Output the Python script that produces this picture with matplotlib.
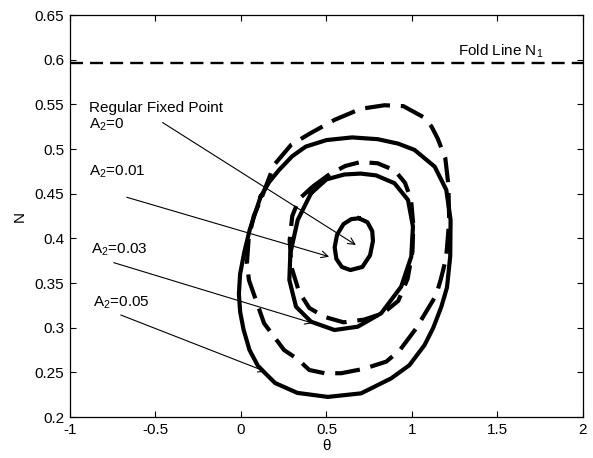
import matplotlib
matplotlib.use("Agg")
import matplotlib.pyplot as plt

plt.rcParams['font.family'] = ['Liberation Sans', 'DejaVu Sans']
plt.rcParams['mathtext.fontset'] = 'custom'
plt.rcParams['mathtext.rm'] = 'Liberation Sans'
plt.rcParams['mathtext.it'] = 'Liberation Sans'

# orbit A2=0.01 (small solid loop)
small_theta = [0.69, 0.74, 0.768, 0.772, 0.755, 0.71, 0.64, 0.59, 0.558, 0.548, 0.562, 0.60, 0.645, 0.69]
small_N = [0.4225, 0.418, 0.408, 0.397, 0.381, 0.368, 0.3645, 0.368, 0.377, 0.390, 0.404, 0.416, 0.4215, 0.4225]

# orbit A2=0.03 (solid and dashed)
mid_solid_theta = [0.41, 0.50, 0.605, 0.70, 0.79, 0.898, 0.977, 1.006, 0.996, 0.937, 0.82,
                   0.683, 0.547, 0.41, 0.322, 0.283, 0.289, 0.332, 0.41]
mid_solid_N = [0.4505, 0.466, 0.4715, 0.4725, 0.4705, 0.4617, 0.443, 0.4131, 0.3795, 0.3459, 0.3161,
               0.3011, 0.2974, 0.3067, 0.3235, 0.3534, 0.3833, 0.4206, 0.4505]
mid_dash_theta = [0.42, 0.52, 0.61, 0.70, 0.80, 0.90, 0.96, 0.995, 1.008, 1.003, 0.975, 0.92, 0.83,
                  0.72, 0.60, 0.49, 0.40, 0.34, 0.295, 0.285, 0.30, 0.34, 0.42]
mid_dash_N = [0.458, 0.472, 0.481, 0.4855, 0.484, 0.476, 0.462, 0.443, 0.415, 0.385, 0.355, 0.330, 0.316,
              0.309, 0.306, 0.312, 0.322, 0.340, 0.368, 0.398, 0.425, 0.444, 0.458]

# orbit A2=0.05 (solid and dashed)
out_solid_theta = [0.115, 0.165, 0.223, 0.30, 0.379, 0.50, 0.65, 0.80, 0.92, 1.015, 1.133, 1.201, 1.226,
                   1.224, 1.205, 1.172, 1.125, 1.074, 0.985, 0.879, 0.703, 0.508, 0.33, 0.20, 0.10,
                   0.05, 0.015, -0.005, -0.012, -0.005, 0.02, 0.051, 0.115]
out_solid_N = [0.4467, 0.463, 0.4766, 0.492, 0.5027, 0.510, 0.513, 0.511, 0.506, 0.499, 0.4803, 0.4542,
               0.4206, 0.38, 0.345, 0.3235, 0.30, 0.2806, 0.258, 0.2433, 0.2265, 0.2225, 0.227, 0.238,
               0.257, 0.275, 0.298, 0.318, 0.338, 0.36, 0.385, 0.4094, 0.4467]
out_dash_theta = [0.123, 0.193, 0.293, 0.40, 0.547, 0.70, 0.84, 0.95, 1.074, 1.115, 1.15, 1.195, 1.213,
                  1.218, 1.20, 1.17, 1.142, 1.025, 0.93, 0.85, 0.72, 0.586, 0.49, 0.40, 0.33, 0.252,
                  0.135, 0.08, 0.047, 0.035, 0.045, 0.075, 0.123]
out_dash_N = [0.4467, 0.482, 0.5046, 0.517, 0.5326, 0.545, 0.549, 0.548, 0.535, 0.525, 0.512, 0.49, 0.46,
              0.42, 0.378, 0.355, 0.3366, 0.2993, 0.275, 0.262, 0.254, 0.249, 0.249, 0.2526, 0.265,
              0.275, 0.305, 0.335, 0.353, 0.372, 0.40, 0.425, 0.4467]

fold_N = 0.5965
fixed_point = (0.672, 0.3926)

labels = ['A$_2$=0.01', 'A$_2$=0.03', 'A$_2$=0.05']
label_pos = [(-0.89, 0.4702), (-0.875, 0.3833), (-0.867, 0.3235)]
arrow_from = [(-0.668, 0.446), (-0.744, 0.3728), (-0.703, 0.3142)]
arrow_to = [(0.5155, 0.3795), (0.42, 0.305), (0.1465, 0.2507)]

fig = plt.figure(figsize=(5.93, 4.58), dpi=100)
ax = fig.add_axes([0.118, 0.0895, 0.865, 0.8777])

lw = 3.0
ax.axhline(fold_N, color='black', lw=1.7, dashes=(5.5, 3))
ax.plot(out_dash_theta, out_dash_N, color='black', lw=lw, dashes=(6, 2.6), solid_joinstyle='round',
        dash_joinstyle='round')
ax.plot(out_solid_theta, out_solid_N, color='black', lw=lw, solid_joinstyle='round')
ax.plot(mid_dash_theta, mid_dash_N, color='black', lw=lw, dashes=(5, 2.6), solid_joinstyle='round',
        dash_joinstyle='round')
ax.plot(mid_solid_theta, mid_solid_N, color='black', lw=lw, solid_joinstyle='round')
ax.plot(small_theta, small_N, color='black', lw=lw, solid_joinstyle='round')

fs = 11
ax.text(1.27, 0.6043, 'Fold Line N$_1$', fontsize=fs, ha='left', va='baseline')
ax.text(-0.89, 0.5412, 'Regular Fixed Point', fontsize=fs, ha='left', va='baseline')
ax.text(-0.89, 0.5233, 'A$_2$=0', fontsize=fs, ha='left', va='baseline')
ax.annotate('', xy=fixed_point, xytext=(-0.458, 0.5296),
            arrowprops=dict(arrowstyle='->', lw=0.8, color='black', mutation_scale=12,
                            shrinkA=0, shrinkB=0))
for lab, pos, a0, a1 in zip(labels, label_pos, arrow_from, arrow_to):
    ax.text(pos[0], pos[1], lab, fontsize=fs, ha='left', va='baseline')
    ax.annotate('', xy=a1, xytext=a0,
                arrowprops=dict(arrowstyle='->', lw=0.8, color='black', mutation_scale=12,
                                shrinkA=0, shrinkB=0))

ax.set_xlim(-1, 2)
ax.set_ylim(0.2, 0.65)
ax.set_xticks([-1, -0.5, 0, 0.5, 1, 1.5, 2])
ax.set_xticklabels(['-1', '-0.5', '0', '0.5', '1', '1.5', '2'])
ax.set_yticks([0.2, 0.25, 0.3, 0.35, 0.4, 0.45, 0.5, 0.55, 0.6, 0.65])
ax.set_yticklabels(['0.2', '0.25', '0.3', '0.35', '0.4', '0.45', '0.5', '0.55', '0.6', '0.65'])
ax.tick_params(direction='in', top=True, right=True, length=4, width=0.8, labelsize=fs, pad=4)
for sp in ax.spines.values():
    sp.set_linewidth(0.9)
ax.set_xlabel('θ', fontsize=fs, labelpad=2)
ax.set_ylabel('N', fontsize=fs, labelpad=6)

fig.savefig('out.png', dpi=100)
